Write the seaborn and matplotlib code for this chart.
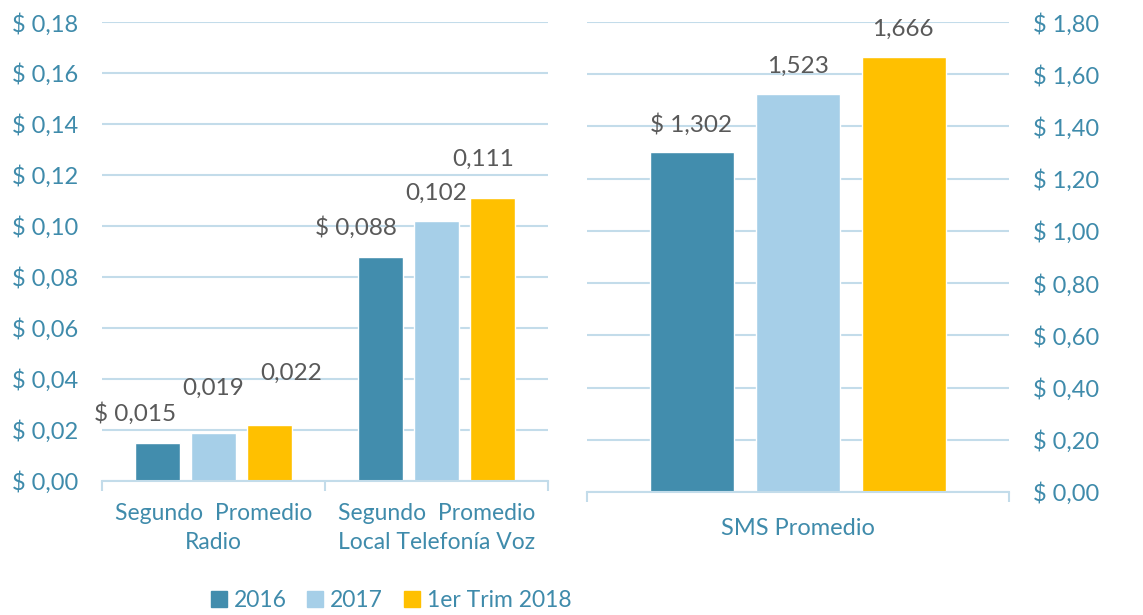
import matplotlib
matplotlib.use("Agg")
import matplotlib.pyplot as plt
import matplotlib.patches as mpatches
import pandas as pd
import seaborn as sns

# Series and categories
series = ["2016", "2017", "1er Trim 2018"]
left_categories = ["Segundo  Promedio\nRadio", "Segundo  Promedio\nLocal Telefonía Voz"]
radio_values = [0.015, 0.019, 0.022]
voz_values = [0.088, 0.102, 0.111]
right_categories = ["SMS Promedio"]
sms_values = [1.302, 1.523, 1.666]

left_ticks = [0.00, 0.02, 0.04, 0.06, 0.08, 0.10, 0.12, 0.14, 0.16, 0.18]
right_ticks = [0.00, 0.20, 0.40, 0.60, 0.80, 1.00, 1.20, 1.40, 1.60, 1.80]

colors = ["#428DAD", "#A6CFE8", "#FFC000"]
axis_color = "#3F8BAB"
grid_color = "#C3DCEA"
label_color = "#595959"
fs = 17

sns.set_theme(style="white")
plt.rcParams["font.family"] = ["Lato", "DejaVu Sans"]

left_df = pd.DataFrame({
    "categoria": [left_categories[0]] * 3 + [left_categories[1]] * 3,
    "serie": series * 2,
    "valor": radio_values + voz_values,
})
right_df = pd.DataFrame({
    "categoria": right_categories * 3,
    "serie": series,
    "valor": sms_values,
})

fig = plt.figure(figsize=(11.43, 6.15), dpi=100)
ax_l = fig.add_axes([0.0892, 0.2179, 0.3902, 0.7463])
ax_r = fig.add_axes([0.5136, 0.2000, 0.3692, 0.7642])

palette = dict(zip(series, colors))
for ax, df in ((ax_l, left_df), (ax_r, right_df)):
    sns.barplot(data=df, x="categoria", y="valor", hue="serie", hue_order=series,
                palette=palette, width=0.753, gap=0.2, saturation=1,
                legend=False, ax=ax, zorder=3)


def fmt(v, decimals, prefix):
    s = f"{v:.{decimals}f}".replace(".", ",")
    return f"$ {s}" if prefix else s


def style_axis(ax, ticks, decimals, ncat, side, label_pad, xfs):
    ax.set_ylim(0, ticks[-1])
    ax.set_xlim(-0.5, ncat - 0.5)
    ax.set_yticks(ticks)
    ax.set_yticklabels([f"$ {fmt(t, decimals, False)}" for t in ticks])
    ax.set_xlabel("")
    ax.set_ylabel("")
    for s in ("left", "right", "top"):
        ax.spines[s].set_visible(False)
    ax.spines["bottom"].set_color(grid_color)
    ax.spines["bottom"].set_linewidth(1.5)
    ax.spines["bottom"].set_zorder(4)
    ax.grid(axis="y", color=grid_color, linewidth=1.5, zorder=0)
    ax.grid(axis="x", visible=False)
    if side == "right":
        ax.yaxis.tick_right()
    ax.tick_params(axis="y", length=0, pad=17, labelsize=fs, labelcolor=axis_color)
    ax.tick_params(axis="x", which="major", length=0, pad=label_pad,
                   labelsize=xfs, labelcolor=axis_color)
    ax.set_xticks([i - 0.5 for i in range(ncat + 1)], minor=True)
    ax.tick_params(axis="x", which="minor", length=7, width=1.5,
                   color=grid_color, direction="out", bottom=True)


style_axis(ax_l, left_ticks, 2, 2, "left", 15.5, 16.5)
style_axis(ax_r, right_ticks, 2, 1, "right", 19, fs)
for lbl in ax_l.get_xticklabels():
    lbl.set_linespacing(1.5)

# Value labels, offset in points from the top of each bar
label_offsets_left = [(-16, 21), (0, 32), (16, 37), (-18, 21), (0, 20), (-7, 28)]
label_offsets_right = [(-1, 20), (0, 20), (-1, 20)]


def add_labels(ax, offsets):
    bars = sorted(ax.patches, key=lambda p: p.get_x())
    for i, (bar, off) in enumerate(zip(bars, offsets)):
        v = bar.get_height()
        prefix = (i % 3 == 0)
        ax.annotate(fmt(v, 3, prefix),
                    (bar.get_x() + bar.get_width() / 2, v),
                    xytext=off, textcoords="offset points",
                    ha="center", va="center", fontsize=fs + 0.5, color=label_color,
                    annotation_clip=False, zorder=5)


add_labels(ax_l, label_offsets_left)
add_labels(ax_r, label_offsets_right)

handles = [mpatches.Patch(color=c, label=s) for s, c in zip(series, colors)]
leg = fig.legend(handles=handles, loc="center", bbox_to_anchor=(0.342, 0.024),
                 ncol=3, frameon=False, fontsize=16.5, handlelength=0.7,
                 handleheight=0.7, handletextpad=0.3, columnspacing=0.9)
for t in leg.get_texts():
    t.set_color(axis_color)

fig.savefig("out.png", dpi=100, facecolor="white")
